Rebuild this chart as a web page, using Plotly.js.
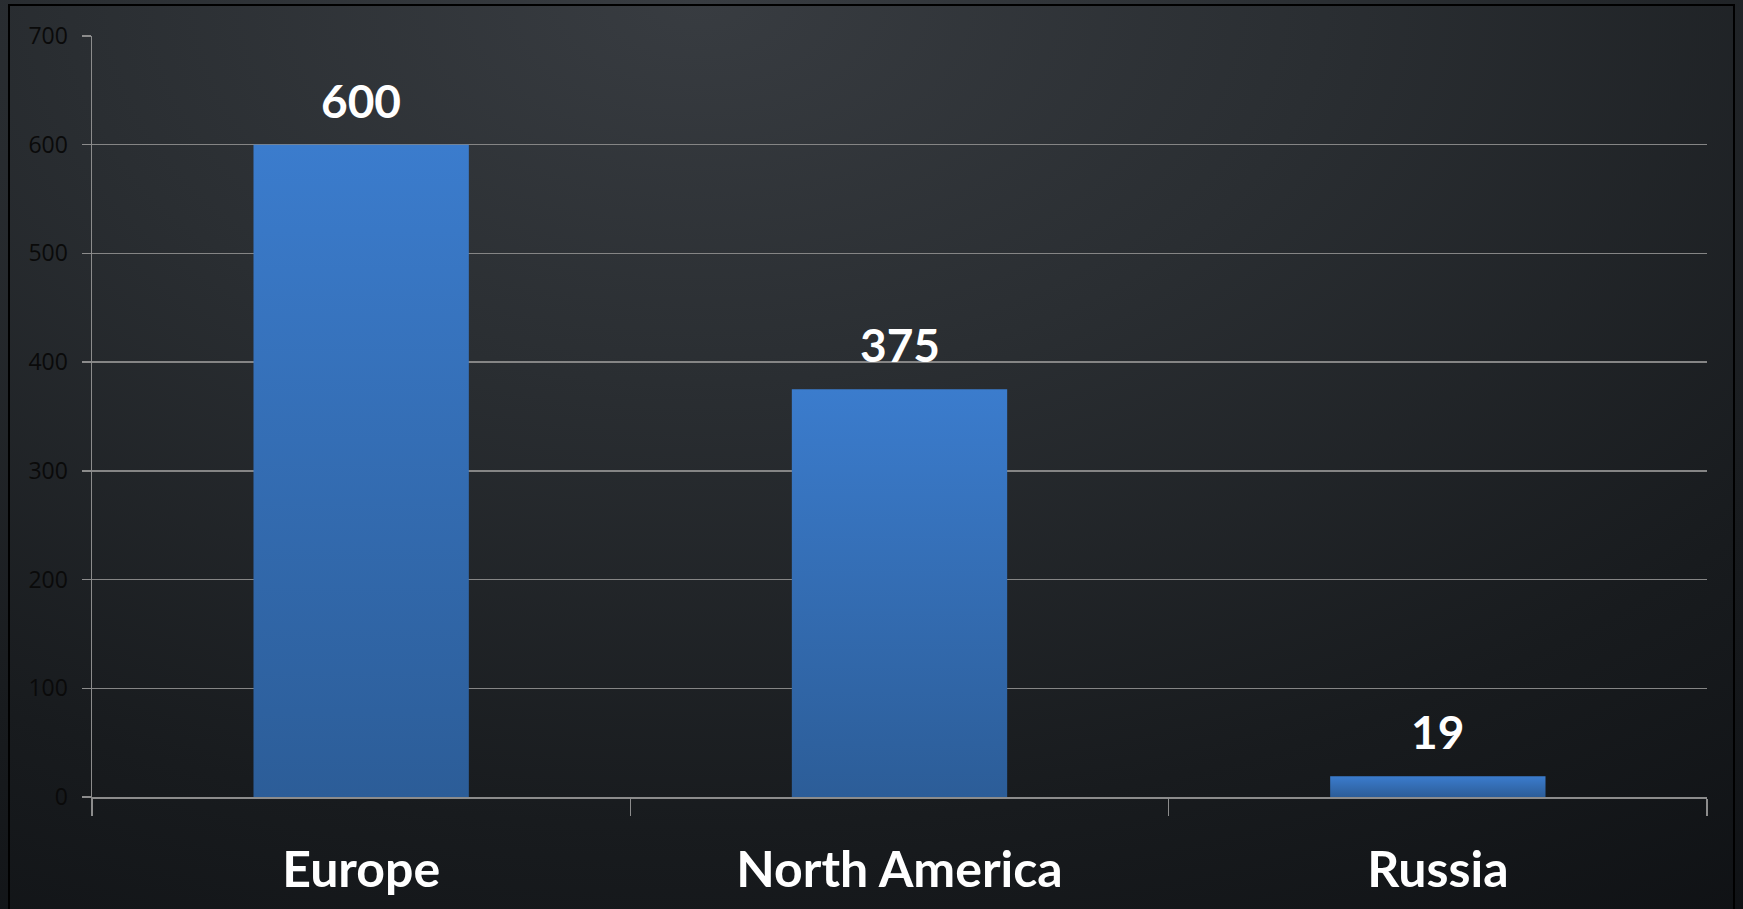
<!DOCTYPE html>
<html>
<head>
<meta charset="utf-8">
<script src="https://cdn.plot.ly/plotly-3.0.1.min.js"></script>
<style>
  html, body { margin: 0; padding: 0; width: 1743px; height: 909px; overflow: hidden; }
  body {
    background: radial-gradient(ellipse 120% 140% at 40% 0%, #383c41 0%, #2a2e32 30%, #181b1e 65%, #0b0d10 100%);
  }
  #frame { position: absolute; left: 8px; top: 4px; width: 1727px; height: 920px; border: 2px solid #000; box-sizing: border-box; pointer-events: none; }
  #chart { position: absolute; left: 0; top: 0; width: 1743px; height: 909px; }
</style>
</head>
<body>
<div id="chart"></div>
<div id="frame"></div>
<script>
const categories = ["Europe", "North America", "Russia"];
const values = [600, 375, 19];
const yTicks = [0, 100, 200, 300, 400, 500, 600, 700];

const trace = {
  type: "bar",
  x: categories,
  y: values,
  marker: { color: "#3569ad", line: { width: 0 } },
  hoverinfo: "none"
};

const annotations = categories.map((c, i) => ({
  x: c, y: values[i], xref: "x", yref: "y",
  text: String(values[i]),
  showarrow: false, yanchor: "bottom", yshift: 15,
  font: { family: "Lato", size: 46, color: "#ffffff", weight: 700 }
}));

const layout = {
  width: 1743, height: 909,
  paper_bgcolor: "rgba(0,0,0,0)",
  plot_bgcolor: "rgba(0,0,0,0)",
  margin: { l: 92, r: 36, t: 36, b: 112 },
  bargap: 0.6,
  showlegend: false,
  xaxis: {
    type: "category",
    tickson: "boundaries",
    ticks: "outside", ticklen: 17, tickwidth: 1.5, tickcolor: "#8c8c8c",
    showline: true, linecolor: "#8c8c8c", linewidth: 1.5,
    showgrid: false,
    tickfont: { family: "Lato", size: 50, color: "#ffffff", weight: 700 },
    ticklabelstandoff: 28,
    fixedrange: true
  },
  yaxis: {
    range: [0, 700],
    tickvals: yTicks,
    ticktext: yTicks.map(String),
    ticks: "outside", ticklen: 9, tickwidth: 1.5, tickcolor: "#8c8c8c",
    showline: true, linecolor: "#8c8c8c", linewidth: 1.5,
    showgrid: true, gridcolor: "#858585", gridwidth: 1.5,
    zeroline: false,
    tickfont: { family: "Open Sans", size: 23, color: "#0a0a0a" },
    ticklabelstandoff: 9,
    fixedrange: true
  },
  annotations: annotations
};

Plotly.newPlot("chart", [trace], layout, { displayModeBar: false, staticPlot: true }).then(gd => {
  const svg = gd.querySelector("svg.main-svg");
  const ns = "http://www.w3.org/2000/svg";
  let defs = svg.querySelector("defs");
  if (!defs) { defs = document.createElementNS(ns, "defs"); svg.insertBefore(defs, svg.firstChild); }
  const grad = document.createElementNS(ns, "linearGradient");
  grad.setAttribute("id", "barGrad");
  grad.setAttribute("x1", "0"); grad.setAttribute("y1", "0");
  grad.setAttribute("x2", "0"); grad.setAttribute("y2", "1");
  [["0%", "#3b7ccd"], ["100%", "#2c5d98"]].forEach(([o, c]) => {
    const s = document.createElementNS(ns, "stop");
    s.setAttribute("offset", o); s.setAttribute("stop-color", c);
    grad.appendChild(s);
  });
  defs.appendChild(grad);
  gd.querySelectorAll(".bars .point path").forEach(p => { p.style.fill = "url(#barGrad)"; });
});
</script>
</body>
</html>
